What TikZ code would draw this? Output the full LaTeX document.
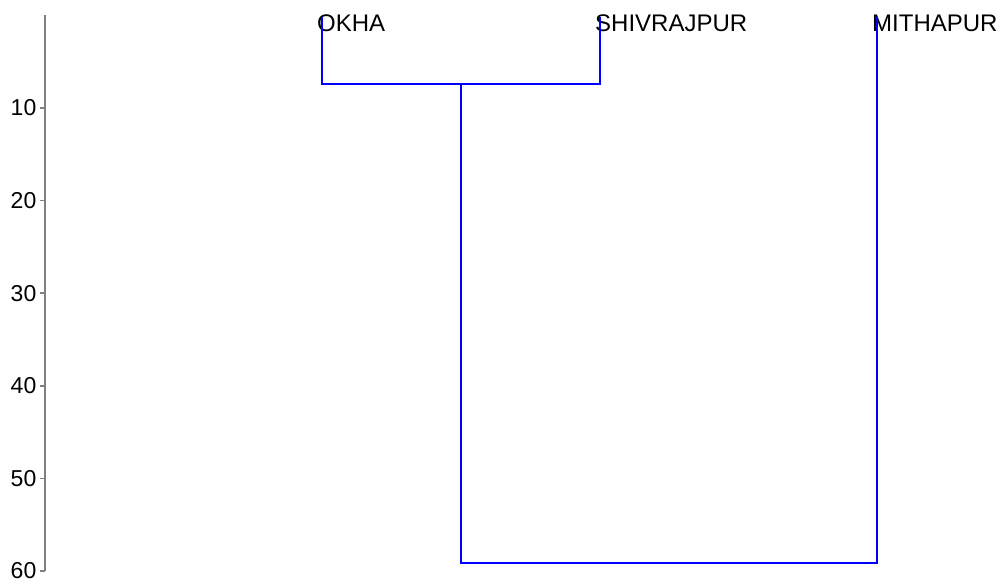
\documentclass[tikz,border=0pt]{standalone}
\usepackage{fontspec}
\setmainfont{Liberation Sans}
\begin{document}
\begin{tikzpicture}[x=1pt,y=-1pt,
  axisline/.style={draw=gray, line width=1.6pt},
  ticklabel/.style={anchor=east, inner sep=0pt, font=\fontsize{23}{25}\selectfont},
  leaflabel/.style={anchor=west, inner sep=0pt, font=\fontsize{24}{26}\selectfont},
  link/.style={draw=blue, line width=2.2pt, line join=miter}]
\useasboundingbox (0,0) rectangle (1008,582);
% height axis: 0 at y=15.4, 9.26 units per step
\coordinate (axtop) at (45,15.4);
\coordinate (axbot) at (45,571);
\draw[axisline] (axtop) -- (axbot);
\foreach \v in {10,20,30,40,50,60} {
  \coordinate (t\v) at (45,{15.4+9.26*\v});
  \draw[axisline] (t\v) -- ++(-5,0);
  \node[ticklabel] (tl\v) at ([xshift=-8.5pt]t\v) {\v};
}
% leaves
\coordinate (okha) at (322,17);
\coordinate (shiv) at (600,17);
\coordinate (mitha) at (877,17);
\node[leaflabel] (lokha) at (317,23) {OKHA};
\node[leaflabel] (lshiv) at (595,23) {SHIVRAJPUR};
\node[leaflabel] (lmitha) at (872,23) {MITHAPUR};
% merge heights
\coordinate (m1) at (461,84);
\coordinate (m2) at (669,563);
\draw[link] (okha) -- (okha|-m1) -- (shiv|-m1) -- (shiv);
\draw[link] (m1) -- (m1|-m2) -- (mitha|-m2) -- (mitha);
\end{tikzpicture}
\end{document}
